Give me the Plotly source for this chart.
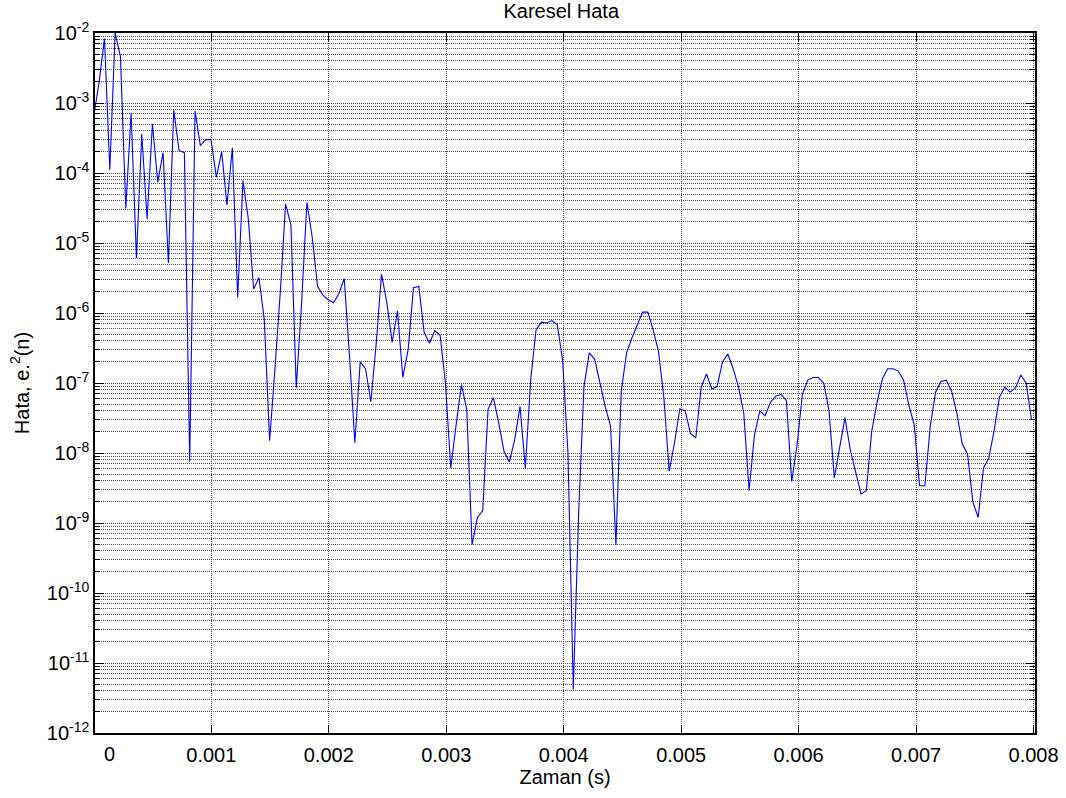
import numpy as np
import plotly.graph_objects as go

# sampling rate of the error signal (Hz) and squared error values e^2(n)
fs = 22050
err_sq = [
    6.6e-4, 2.0e-3, 8.3e-3, 1.1e-4, 1.0e-2, 4.6e-3, 3.1e-5, 7.2e-4, 6.1e-6, 3.6e-4,
    2.2e-5, 5.0e-4, 7.4e-5, 1.95e-4, 5.2e-6, 7.9e-4, 2.1e-4, 1.95e-4, 7.5e-9, 7.7e-4,
    2.45e-4, 3.0e-4, 3.0e-4, 8.7e-5, 2.0e-4, 3.5e-5, 2.3e-4, 1.66e-6, 7.8e-5, 2.2e-5,
    2.2e-6, 3.2e-6, 8.0e-7, 1.5e-8, 1.6e-7, 2.0e-6, 3.6e-5, 1.8e-5, 8.5e-8, 1.4e-6,
    3.8e-5, 1.2e-5, 2.4e-6, 1.8e-6, 1.55e-6, 1.4e-6, 1.9e-6, 3.1e-6, 2.4e-7, 1.4e-8,
    2.0e-7, 1.6e-7, 5.4e-8, 3.6e-7, 3.6e-6, 1.4e-6, 3.8e-7, 1.07e-6, 1.2e-7, 3.0e-7,
    2.3e-6, 2.4e-6, 5.3e-7, 3.7e-7, 5.6e-7, 4.8e-7, 1.0e-7, 6.1e-9, 2.5e-8, 9.5e-8,
    4.2e-8, 4.9e-10, 1.2e-9, 1.5e-9, 4.2e-8, 6.2e-8, 2.7e-8, 1.05e-8, 7.5e-9, 1.55e-8,
    4.6e-8, 6.1e-9, 1.1e-7, 5.7e-7, 7.4e-7, 7.2e-7, 7.8e-7, 6.8e-7, 2.1e-7, 1.0e-8,
    4.2e-12, 1.35e-9, 8.9e-8, 2.7e-7, 2.2e-7, 1.0e-7, 4.6e-8, 2.4e-8, 4.8e-10, 7.6e-8,
    2.7e-7, 4.4e-7, 6.8e-7, 1.03e-6, 1.03e-6, 5.7e-7, 2.8e-7, 6.2e-8, 5.5e-9, 1.4e-8,
    4.3e-8, 4.0e-8, 1.9e-8, 1.65e-8, 8.7e-8, 1.35e-7, 8.2e-8, 8.9e-8, 2.0e-7, 2.6e-7,
    1.6e-7, 8.9e-8, 3.7e-8, 2.9e-9, 1.8e-8, 4.0e-8, 3.4e-8, 5.3e-8, 6.5e-8, 6.9e-8,
    5.6e-8, 3.9e-9, 1.3e-8, 6.9e-8, 1.1e-7, 1.2e-7, 1.2e-7, 1.0e-7, 4.0e-8, 4.4e-9,
    1.2e-8, 3.2e-8, 1.1e-8, 5.2e-9, 2.6e-9, 2.9e-9, 2.0e-8, 5.2e-8, 1.14e-7, 1.6e-7,
    1.6e-7, 1.48e-7, 1.1e-7, 4.8e-8, 2.5e-8, 3.4e-9, 3.4e-9, 2.4e-8, 7.4e-8, 1.05e-7,
    1.1e-7, 7.7e-8, 3.7e-8, 1.35e-8, 9.7e-9, 2.0e-9, 1.2e-9, 6.1e-9, 8.5e-9, 2.1e-8,
    6.3e-8, 8.7e-8, 7.4e-8, 8.5e-8, 1.3e-7, 1.0e-7, 3.0e-8,
]
time_s = np.arange(len(err_sq)) / fs

x_tickvals = [0.001, 0.002, 0.003, 0.004, 0.005, 0.006, 0.007, 0.008]
x_ticktext = ["0.001", "0.002", "0.003", "0.004", "0.005", "0.006", "0.007", "0.008"]
y_exponents = [-12, -11, -10, -9, -8, -7, -6, -5, -4, -3, -2]
y_tickvals = [10.0 ** e for e in y_exponents]
y_ticktext = ["10<sup>%d</sup>" % e for e in y_exponents]
y_minorvals = [k * 10.0 ** e for e in y_exponents[:-1] for k in range(2, 10)]

FONT = "Liberation Sans, Arial, Helvetica, sans-serif"
GRID = "#555555"
DASH = "1px,1px"
FS = 20

fig = go.Figure()
fig.add_trace(go.Scatter(
    x=time_s, y=err_sq, mode="lines",
    line=dict(color="#0000ff", width=1.1),
    showlegend=False, hoverinfo="x+y",
))

fig.update_layout(
    width=1066, height=798, autosize=False,
    paper_bgcolor="white", plot_bgcolor="white",
    margin=dict(l=95, r=31, t=33, b=65, pad=0, autoexpand=False),
    font=dict(family=FONT, size=FS, color="black"),
    title=dict(text="Karesel Hata", x=0.496, xanchor="center", xref="paper",
               y=1 - 11 / 798, yanchor="middle", yref="container",
               automargin=False,
               font=dict(family=FONT, size=FS, color="black")),
)

fig.update_xaxes(
    range=[0.00001, 0.008012], automargin=False,
    tickvals=x_tickvals, ticktext=x_ticktext,
    ticks="inside", ticklen=8, tickcolor="black", tickwidth=1,
    showline=True, linecolor="black", linewidth=1.5, mirror="ticks",
    showgrid=True, gridcolor=GRID, griddash=DASH, gridwidth=1,
    zeroline=False, ticklabelstandoff=3,
    title=dict(text="Zaman (s)", standoff=4, font=dict(size=FS)),
    tickfont=dict(size=FS),
)

fig.update_yaxes(
    type="log", range=[-12, -2], automargin=False,
    tickvals=y_tickvals, ticktext=y_ticktext,
    ticks="inside", ticklen=9, tickcolor="black", tickwidth=1,
    showline=True, linecolor="black", linewidth=1.5, mirror="ticks",
    showgrid=True, gridcolor=GRID, griddash=DASH, gridwidth=1,
    zeroline=False,
    minor=dict(tickvals=y_minorvals, ticks="inside", ticklen=5, tickcolor="black",
               showgrid=True, gridcolor=GRID, griddash=DASH, gridwidth=1),
    title=dict(text="Hata, e.<sup>2</sup>(n)", standoff=12, font=dict(size=FS)),
    tickfont=dict(size=FS),
)

# "0" time label, which sits just inside the left edge in the original
fig.add_annotation(text="0", xref="paper", yref="paper", x=(109 - 95) / 940, y=0,
                   xanchor="center", yanchor="top", yshift=-8, showarrow=False,
                   font=dict(family=FONT, size=FS, color="black"))

# remove the browser's default page margin so the figure starts at the corner
fig.write_html("out.html", config={"displayModeBar": False},
               post_script="document.body.style.margin='0';")
